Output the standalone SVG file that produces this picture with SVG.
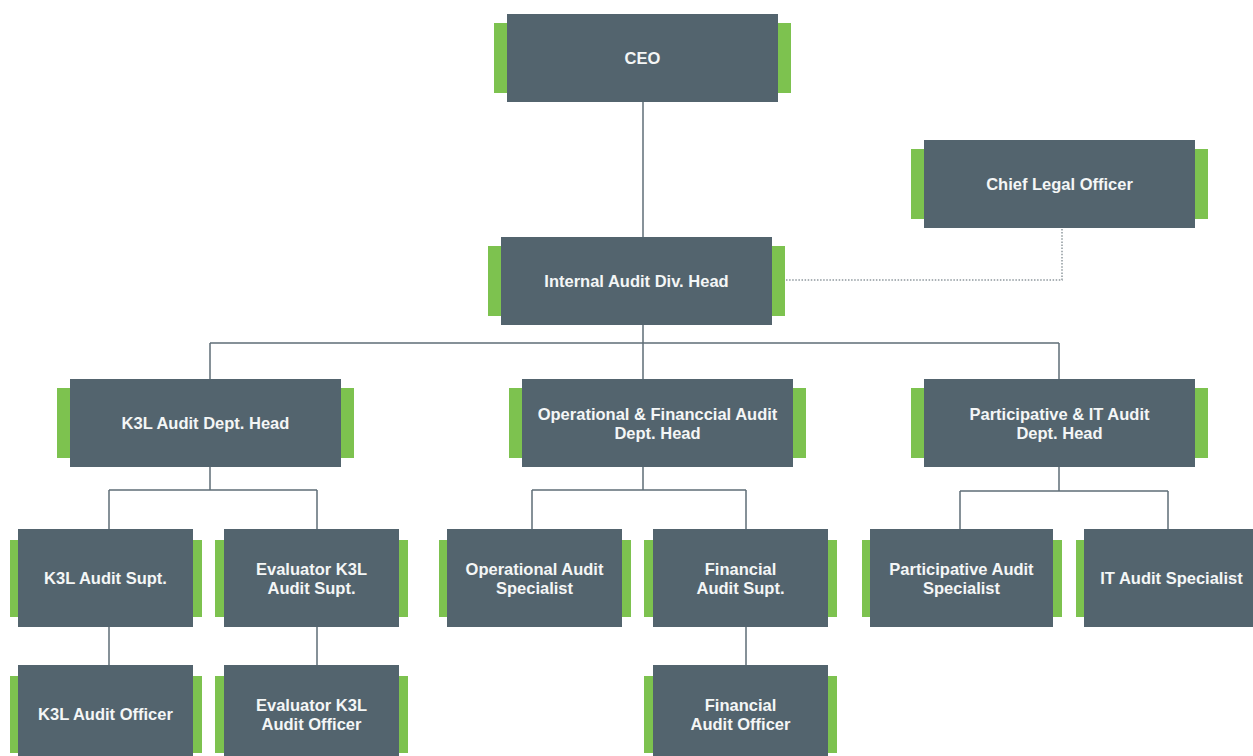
<svg xmlns="http://www.w3.org/2000/svg" width="1253" height="756" viewBox="0 0 1253 756">
  <style>
    .box { fill: #53646e; }
    .tab { fill: #7dc24f; }
    .lbl { fill: #f4f6f6; font-family: "Liberation Sans", Arial, sans-serif; font-weight: bold; font-size: 16.5px; text-anchor: middle; }
    .link { fill: none; stroke: #5f6e77; stroke-width: 1.5; }
    .dotted { fill: none; stroke: #8e989d; stroke-width: 1.5; stroke-dasharray: 1.5 1.6; }
  </style>
  <rect width="1253" height="756" fill="#ffffff"/>

  <!-- reporting lines -->
  <g id="connectors">
    <path class="link" d="M643 102 V237"/>
    <path class="link" d="M643 325 V343 M210 343 H1059 M210 343 V379 M643 343 V379 M1059 343 V379"/>
    <path class="link" d="M210 467 V490 M109 490 H317 M109 490 V529 M317 490 V529 M109 627 V665 M317 627 V665"/>
    <path class="link" d="M643 467 V490 M532 490 H746 M532 490 V529 M746 490 V529 M746 627 V665"/>
    <path class="link" d="M1059 467 V491 M960 491 H1168 M960 491 V529 M1168 491 V529"/>
    <path class="dotted" d="M786 280 H1062 V228"/>
  </g>

  <!-- top level -->
  <g id="ceo">
    <rect class="tab" x="494" y="23" width="13" height="70"/>
    <rect class="tab" x="778" y="23" width="13" height="70"/>
    <rect class="box" x="507" y="14" width="271" height="88"/>
    <text class="lbl" x="642.5" y="64">CEO</text>
  </g>
  <g id="chief-legal-officer">
    <rect class="tab" x="911" y="149" width="13" height="70"/>
    <rect class="tab" x="1195" y="149" width="13" height="70"/>
    <rect class="box" x="924" y="140" width="271" height="88"/>
    <text class="lbl" x="1059.5" y="190">Chief Legal Officer</text>
  </g>
  <g id="internal-audit-head">
    <rect class="tab" x="488" y="246" width="13" height="70"/>
    <rect class="tab" x="772" y="246" width="13" height="70"/>
    <rect class="box" x="501" y="237" width="271" height="88"/>
    <text class="lbl" x="636.5" y="287">Internal Audit Div. Head</text>
  </g>

  <!-- department heads -->
  <g id="k3l-dept-head">
    <rect class="tab" x="57" y="388" width="13" height="70"/>
    <rect class="tab" x="341" y="388" width="13" height="70"/>
    <rect class="box" x="70" y="379" width="271" height="88"/>
    <text class="lbl" x="205.5" y="429">K3L Audit Dept. Head</text>
  </g>
  <g id="opfin-dept-head">
    <rect class="tab" x="509" y="388" width="13" height="70"/>
    <rect class="tab" x="793" y="388" width="13" height="70"/>
    <rect class="box" x="522" y="379" width="271" height="88"/>
    <text class="lbl" x="657.5" y="420">Operational &amp; Financcial Audit</text>
    <text class="lbl" x="657.5" y="439">Dept. Head</text>
  </g>
  <g id="pit-dept-head">
    <rect class="tab" x="911" y="388" width="13" height="70"/>
    <rect class="tab" x="1195" y="388" width="13" height="70"/>
    <rect class="box" x="924" y="379" width="271" height="88"/>
    <text class="lbl" x="1059.5" y="420">Participative &amp; IT Audit</text>
    <text class="lbl" x="1059.5" y="439">Dept. Head</text>
  </g>

  <!-- K3L branch -->
  <g id="k3l-audit-supt">
    <rect class="tab" x="10" y="540" width="9" height="77"/>
    <rect class="tab" x="193" y="540" width="9" height="77"/>
    <rect class="box" x="18" y="529" width="175" height="98"/>
    <text class="lbl" x="105.5" y="584">K3L Audit Supt.</text>
  </g>
  <g id="evaluator-k3l-audit-supt">
    <rect class="tab" x="215" y="540" width="9" height="77"/>
    <rect class="tab" x="399" y="540" width="9" height="77"/>
    <rect class="box" x="224" y="529" width="175" height="98"/>
    <text class="lbl" x="311.5" y="575">Evaluator K3L</text>
    <text class="lbl" x="311.5" y="594">Audit Supt.</text>
  </g>
  <g id="k3l-audit-officer">
    <rect class="tab" x="10" y="676" width="9" height="77"/>
    <rect class="tab" x="193" y="676" width="9" height="77"/>
    <rect class="box" x="18" y="665" width="175" height="98"/>
    <text class="lbl" x="105.5" y="720">K3L Audit Officer</text>
  </g>
  <g id="evaluator-k3l-audit-officer">
    <rect class="tab" x="215" y="676" width="9" height="77"/>
    <rect class="tab" x="399" y="676" width="9" height="77"/>
    <rect class="box" x="224" y="665" width="175" height="98"/>
    <text class="lbl" x="311.5" y="711">Evaluator K3L</text>
    <text class="lbl" x="311.5" y="730">Audit Officer</text>
  </g>

  <!-- Operational & Financial branch -->
  <g id="operational-audit-specialist">
    <rect class="tab" x="439" y="540" width="9" height="77"/>
    <rect class="tab" x="622" y="540" width="9" height="77"/>
    <rect class="box" x="447" y="529" width="175" height="98"/>
    <text class="lbl" x="534.5" y="575">Operational Audit</text>
    <text class="lbl" x="534.5" y="594">Specialist</text>
  </g>
  <g id="financial-audit-supt">
    <rect class="tab" x="644" y="540" width="9" height="77"/>
    <rect class="tab" x="828" y="540" width="9" height="77"/>
    <rect class="box" x="653" y="529" width="175" height="98"/>
    <text class="lbl" x="740.5" y="575">Financial</text>
    <text class="lbl" x="740.5" y="594">Audit Supt.</text>
  </g>
  <g id="financial-audit-officer">
    <rect class="tab" x="644" y="676" width="9" height="77"/>
    <rect class="tab" x="828" y="676" width="9" height="77"/>
    <rect class="box" x="653" y="665" width="175" height="98"/>
    <text class="lbl" x="740.5" y="711">Financial</text>
    <text class="lbl" x="740.5" y="730">Audit Officer</text>
  </g>

  <!-- Participative & IT branch -->
  <g id="participative-audit-specialist">
    <rect class="tab" x="862" y="540" width="9" height="77"/>
    <rect class="tab" x="1053" y="540" width="9" height="77"/>
    <rect class="box" x="870" y="529" width="183" height="98"/>
    <text class="lbl" x="961.5" y="575">Participative Audit</text>
    <text class="lbl" x="961.5" y="594">Specialist</text>
  </g>
  <g id="it-audit-specialist">
    <rect class="tab" x="1076" y="540" width="9" height="77"/>
    <rect class="tab" x="1259" y="540" width="9" height="77"/>
    <rect class="box" x="1084" y="529" width="175" height="98"/>
    <text class="lbl" x="1171.5" y="584">IT Audit Specialist</text>
  </g>
</svg>
